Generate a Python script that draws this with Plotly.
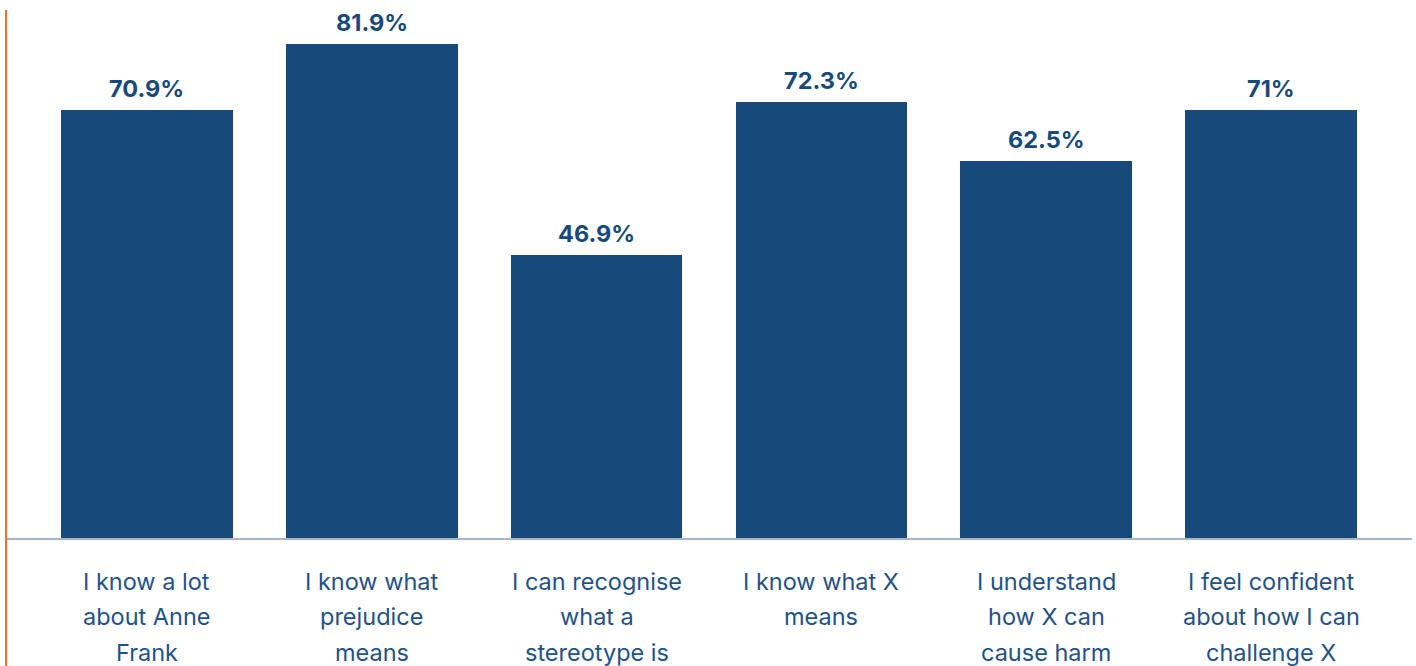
import plotly.graph_objects as go

# Survey statements (line breaks mark where each label wraps)
statements = [
    "I know a lot<br>about Anne<br>Frank",
    "I know what<br>prejudice<br>means",
    "I can recognise<br>what a<br>stereotype is",
    "I know what X<br>means",
    "I understand<br>how X can<br>cause harm",
    "I feel confident<br>about how I can<br>challenge X",
]
# Share of respondents agreeing (%)
agree_pct = [70.9, 81.9, 46.9, 72.3, 62.5, 71]
value_labels = ["70.9%", "81.9%", "46.9%", "72.3%", "62.5%", "71%"]

BAR = "#17497b"
TICK = "#1f5289"
ORANGE = "#f26a2e"
AXIS = "#a7b4ca"

positions = list(range(len(statements)))

fig = go.Figure(
    go.Bar(
        x=positions,
        y=agree_pct,
        width=0.764,
        marker=dict(color=BAR, line=dict(width=0)),
        hoverinfo="skip",
    )
)

annotations = []
# Value labels above each bar
for xi, v, lab in zip(positions, agree_pct, value_labels):
    annotations.append(dict(
        x=xi, y=v, xref="x", yref="y", text=f"<b>{lab}</b>",
        showarrow=False, yanchor="bottom", yshift=5,
        font=dict(family="Inter, sans-serif", size=23.5, color=BAR),
    ))

# Category labels, one annotation per wrapped line
for xi, s in zip(positions, statements):
    for li, line in enumerate(s.split("<br>")):
        annotations.append(dict(
            x=xi, y=0, xref="x", yref="paper", text=line,
            showarrow=False, yanchor="middle", yshift=-43 - 35.5 * li,
            font=dict(family="Inter, sans-serif", size=23.5, color=TICK),
        ))

fig.update_layout(
    width=1416, height=666,
    margin=dict(l=6, r=4, t=10, b=128),
    paper_bgcolor="white", plot_bgcolor="white",
    showlegend=False,
    bargap=0,
    annotations=annotations,
    xaxis=dict(
        range=[-0.6267, 5.6267], showticklabels=False, ticks="",
        showgrid=False, zeroline=False,
        showline=True, linecolor=AXIS, linewidth=2,
        fixedrange=True,
    ),
    yaxis=dict(
        range=[0, 87.5], visible=False, showgrid=False, zeroline=False,
        fixedrange=True,
    ),
    shapes=[dict(
        type="line", xref="paper", yref="paper",
        x0=0, x1=0, y0=-0.3, y1=1,
        line=dict(color=ORANGE, width=2),
    )],
)

fig.write_html("out.html", config={"displayModeBar": False})
